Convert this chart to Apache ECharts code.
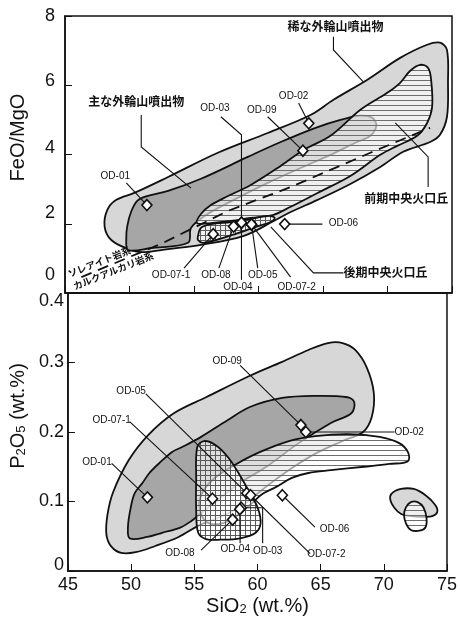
<!DOCTYPE html>
<html><head><meta charset="utf-8">
<script src="https://cdn.jsdelivr.net/npm/echarts@6/dist/echarts.min.js"></script>
<style>html,body{margin:0;padding:0;background:#fff}#c{width:460px;height:622px}</style>
</head><body><div id="c"></div>
<script>
// ---------- sample data ----------
const sampleNames = ['OD-01','OD-02','OD-03','OD-04','OD-05','OD-06','OD-07-1','OD-07-2','OD-08','OD-09'];
const sio2Top  = [51.35,63.90,58.68,58.68,59.46,62.03,56.49,59.46,58.07,63.44];
const feoMgo   = [2.54,4.90,2.03,2.03,1.98,1.99,1.70,1.98,1.92,4.11];
const sio2Bot  = [51.29,63.83,58.72,58.60,59.15,61.97,56.44,59.46,58.03,63.44];
const p2o5     = [0.106,0.200,0.091,0.089,0.112,0.109,0.104,0.109,0.074,0.210];

// ---------- axis ticks ----------
const xTicks = [45,50,55,60,65,70,75];
const yTopTicks = [0,2,4,6,8];
const yBotTicks = [0,0.1,0.2,0.3,0.4];

// ---------- fields: FeO/MgO panel ----------
const rareOuterTop = [[48.07,1.92],[48.28,2.40],[48.98,2.69],[50.37,2.89],[52.99,3.35],[56.85,4.05],[60.71,4.62],[64.03,5.14],[65.81,5.58],[68.44,6.16],[70.98,6.79],[73.07,7.17],[74.07,7.23],[74.61,7.02],[74.69,6.07],[74.61,5.09],[74.07,4.57],[73.30,4.36],[71.22,4.08],[69.44,3.64],[67.12,3.15],[64.58,2.69],[62.49,2.34],[61.18,2.08],[58.86,1.65],[55.54,1.39],[52.99,1.27],[50.91,1.18],[49.90,1.27],[48.59,1.53]];
const mainOuterTop = [[49.90,1.24],[49.75,1.59],[49.83,1.94],[50.14,2.36],[50.60,2.66],[51.29,2.79],[52.99,2.95],[55.54,3.30],[59.17,3.93],[61.72,4.36],[64.42,4.77],[66.35,5.00],[67.90,5.12],[68.82,5.06],[69.13,4.83],[68.67,4.54],[67.51,4.34],[65.58,3.99],[63.26,3.61],[60.71,3.18],[58.09,2.69],[55.93,2.25],[54.77,1.88],[54.54,1.45],[51.68,1.30]];
const earlyConeTop = [[55.23,2.02],[55.54,2.28],[56.31,2.54],[57.63,2.80],[59.40,3.12],[61.72,3.67],[63.49,4.13],[65.58,4.54],[67.90,5.29],[69.98,5.78],[70.98,6.07],[71.76,6.42],[72.53,6.59],[73.15,6.50],[73.38,6.16],[73.46,5.38],[73.07,4.91],[72.30,4.54],[70.75,4.25],[69.44,3.99],[67.12,3.38],[64.58,2.89],[62.49,2.49],[61.10,2.25],[59.40,2.17],[57.86,2.08],[56.31,2.02]];
const lateConeTop = [[55.31,1.65],[55.54,1.88],[56.31,1.99],[57.86,2.05],[59.40,2.14],[60.79,2.23],[61.25,2.17],[60.95,2.05],[59.79,1.91],[58.24,1.71],[56.70,1.53],[55.69,1.45],[55.31,1.53]];
const thCaBoundary = [[46.27,0.46],[52.45,1.42],[57.63,2.37],[62.49,3.06],[68.67,4.05],[73.30,4.77]];

// ---------- fields: P2O5 panel ----------
const rareOuterBot = [[48.05,0.052],[48.13,0.081],[48.59,0.114],[49.83,0.160],[51.37,0.196],[53.38,0.227],[55.93,0.250],[59.40,0.281],[61.95,0.301],[64.03,0.318],[65.58,0.328],[66.74,0.328],[67.74,0.318],[68.67,0.292],[69.21,0.256],[69.05,0.222],[68.36,0.200],[66.74,0.187],[64.81,0.171],[62.88,0.150],[60.95,0.125],[59.79,0.108],[58.63,0.092],[56.85,0.076],[55.31,0.065],[53.76,0.049],[51.91,0.036],[50.37,0.027],[49.21,0.026],[48.44,0.035]];
const mainOuterBot = [[49.90,0.047],[49.75,0.063],[49.98,0.092],[50.29,0.112],[50.91,0.127],[51.45,0.141],[52.22,0.155],[53.22,0.171],[54.00,0.178],[55.54,0.193],[57.63,0.217],[59.40,0.236],[61.95,0.249],[64.58,0.252],[67.12,0.250],[67.66,0.243],[67.43,0.227],[65.81,0.213],[63.26,0.184],[60.71,0.150],[58.63,0.127],[56.85,0.102],[55.54,0.083],[54.77,0.072],[53.84,0.062],[52.45,0.055],[51.29,0.049]];
const earlyConeBot = [[55.39,0.095],[55.77,0.117],[56.70,0.135],[58.24,0.153],[60.17,0.171],[62.49,0.187],[64.58,0.194],[67.12,0.197],[69.67,0.193],[71.22,0.184],[71.91,0.171],[71.91,0.158],[70.44,0.154],[68.44,0.150],[65.81,0.145],[64.03,0.141],[62.72,0.134],[61.49,0.121],[60.41,0.111],[59.40,0.095],[58.24,0.078],[57.08,0.068],[55.93,0.071]];
const lateConeBot = [[55.23,0.178],[55.77,0.187],[56.70,0.181],[57.70,0.163],[58.63,0.137],[59.40,0.112],[60.02,0.091],[60.25,0.069],[59.86,0.055],[58.63,0.047],[57.08,0.045],[55.93,0.046],[55.31,0.055],[55.15,0.088],[55.15,0.131]];
const rhyoliteOuterBot = [[70.60,0.111],[71.37,0.118],[72.37,0.118],[73.30,0.109],[74.07,0.095],[74.23,0.085],[73.84,0.079],[73.15,0.078],[72.14,0.079],[71.37,0.082],[70.83,0.091],[70.52,0.102]];
const rhyoliteInnerBot = [[71.76,0.092],[72.14,0.099],[72.68,0.099],[73.15,0.091],[73.38,0.076],[73.30,0.063],[72.84,0.058],[72.14,0.059],[71.76,0.068],[71.60,0.081]];

// ---------- sample label anchors & leaders ----------
const labelTop = [[48.90,3.38],[62.72,5.69],[56.62,5.35],[58.40,0.17],[60.33,0.52],[66.58,2.02],[53.22,0.52],[62.95,0.17],[56.70,0.52],[60.25,5.29]];
const leaderTop = [
  [[49.75,3.18],[51.35,2.54]],
  [[63.11,5.49],[63.90,4.90]],
  [[57.08,5.09],[58.68,4.57],[58.68,2.03]],
  [[58.68,2.03],[58.68,0.38]],
  [[59.94,0.72],[59.46,1.98]],
  [[62.03,1.99],[64.96,1.99]],
  [[54.23,0.72],[56.49,1.70]],
  [[62.49,0.46],[59.46,1.98]],
  [[56.93,0.72],[58.07,1.92]],
  [[60.71,5.09],[63.44,4.11]]
];
const labelBot = [[47.30,0.156],[72.01,0.200],[60.81,0.029],[58.24,0.031],[50.00,0.258],[66.10,0.060],[48.46,0.217],[65.45,0.024],[53.86,0.026],[57.60,0.302]];
const leaderBot = [
  [[48.46,0.155],[51.29,0.106]],
  [[70.85,0.200],[63.83,0.200]],
  [[58.72,0.091],[60.41,0.091],[60.41,0.040]],
  [[58.60,0.089],[58.63,0.040]],
  [[51.16,0.255],[59.15,0.112]],
  [[64.55,0.063],[61.97,0.109]],
  [[49.88,0.215],[56.44,0.104]],
  [[64.17,0.025],[59.46,0.109]],
  [[55.54,0.030],[58.03,0.074]],
  [[58.63,0.296],[63.44,0.210]]
];

// ---------- field annotations (top panel) ----------
const fieldNames = ['稀な外輪山噴出物','主な外輪山噴出物','前期中央火口丘','後期中央火口丘'];
const fieldNamePos = [[65.96,7.69],[50.52,5.52],[71.45,2.72],[66.58,0.58]];
const fieldLeaders = [
  [[65.81,7.40],[65.81,7.02],[68.13,6.10]],
  [[50.91,5.14],[50.91,4.22],[54.77,3.03]],
  [[73.15,3.06],[73.15,3.93],[70.60,4.91]],
  [[66.58,0.58],[64.26,0.58],[60.95,1.91]]
];
const seriesNames = ['ソレアイト岩系','カルクアルカリ岩系'];
const seriesNamePos = [[47.66,0.90],[48.75,0.64]];

// ---------- patterns ----------
function makePattern(w, h, horiz, vert, color) {
  const c = document.createElement('canvas'); c.width = w; c.height = h;
  const g = c.getContext('2d'); g.strokeStyle = color; g.lineWidth = 1;
  g.beginPath();
  if (horiz) { g.moveTo(0, 0.5); g.lineTo(w, 0.5); }
  if (vert) { g.moveTo(0.5, 0); g.lineTo(0.5, h); }
  g.stroke();
  return { image: c, repeat: 'repeat' };
}
const hatchH = makePattern(8, 5, true, false, '#6e6e6e');
const hatchX = makePattern(5, 5, true, true, '#5a5a5a');

const FONT = '"Liberation Sans", Arial, Helvetica, sans-serif';
const JFONT = '"Noto Sans CJK JP", sans-serif';
const LIGHT = '#d7d7d7', DARK = '#a6a6a6', EDGE = '#111';

function fieldSeries(g, pts, kind, z) {
  return {
    type: 'custom', xAxisIndex: g, yAxisIndex: g, z: z, silent: true, clip: true,
    data: [[pts[0][0], pts[0][1]]],
    renderItem: function (params, api) {
      const p = pts.map(d => api.coord(d));
      const sm = 0.35;
      if (kind === 'light' || kind === 'dark') {
        return { type: 'polygon', shape: { points: p, smooth: sm },
          style: { fill: kind === 'light' ? LIGHT : DARK, stroke: EDGE, lineWidth: 1.8 } };
      }
      const pat = kind === 'hatch' ? hatchH : hatchX;
      return { type: 'group', children: [
        { type: 'polygon', shape: { points: p, smooth: sm }, style: { fill: 'rgba(255,255,255,0.62)' } },
        { type: 'polygon', shape: { points: p, smooth: sm }, style: { fill: pat, stroke: EDGE, lineWidth: 1.8 } }
      ]};
    }
  };
}

function leaderSeries(g, lines, z) {
  return {
    type: 'custom', xAxisIndex: g, yAxisIndex: g, z: z, silent: true, clip: false,
    data: lines.map(l => [l[0][0], l[0][1]]),
    renderItem: function (params, api) {
      const p = lines[params.dataIndex].map(d => api.coord(d));
      return { type: 'polyline', shape: { points: p }, style: { stroke: '#111', lineWidth: 1.1, fill: null } };
    }
  };
}

function textSeries(g, texts, pos, size, family, rot, z, align, weight) {
  return {
    type: 'custom', xAxisIndex: g, yAxisIndex: g, z: z, silent: true, clip: false,
    data: pos.map(p => [p[0], p[1]]),
    renderItem: function (params, api) {
      const c = api.coord(pos[params.dataIndex]);
      const a = Array.isArray(align) ? align[params.dataIndex] : (align || 'center');
      return { type: 'text', x: c[0], y: c[1], rotation: rot || 0,
        style: { text: texts[params.dataIndex], fontSize: size, fontFamily: family, fontWeight: weight || 'normal',
          fill: '#111', align: a, verticalAlign: 'middle' } };
    }
  };
}

function sampleSeries(g, xs, ys) {
  return {
    type: 'scatter', xAxisIndex: g, yAxisIndex: g, z: 20, silent: true,
    symbol: 'diamond', symbolSize: [10, 11],
    itemStyle: { color: '#fff', borderColor: '#111', borderWidth: 1.6, opacity: 1 },
    data: xs.map((x, i) => [x, ys[i]])
  };
}

const topShift = { 0: 36, 2: 22, 4: 12, 6: 8, 8: 0 };

const option = {
  animation: false,
  backgroundColor: '#fff',
  grid: [
    { left: 63, width: 389, top: 16, height: 277, show: true, borderColor: '#111', borderWidth: 1.5, backgroundColor: 'transparent' },
    { left: 63, width: 389, top: 293, height: 278, show: true, borderColor: '#111', borderWidth: 1.5, backgroundColor: 'transparent' }
  ],
  xAxis: [
    { type: 'value', gridIndex: 0, min: xTicks[0], max: xTicks[xTicks.length - 1], interval: 5,
      axisLine: { lineStyle: { color: '#111', width: 1.5 } },
      axisTick: { inside: true, length: 7, lineStyle: { color: '#111', width: 1 } },
      axisLabel: { show: false }, splitLine: { show: false } },
    { type: 'value', gridIndex: 1, min: xTicks[0], max: xTicks[xTicks.length - 1], interval: 5,
      axisLine: { lineStyle: { color: '#111', width: 1.5 } },
      axisTick: { inside: true, length: 7, lineStyle: { color: '#111', width: 1 } },
      axisLabel: { color: '#111', fontSize: 18, fontFamily: FONT, margin: 5, showMinLabel: true, showMaxLabel: true },
      splitLine: { show: false },
      name: 'SiO{s|2} (wt.%)', nameLocation: 'middle', nameGap: 25,
      nameTextStyle: { color: '#111', fontSize: 20, fontFamily: FONT,
        rich: { s: { fontSize: 13, fontFamily: FONT, color: '#111', verticalAlign: 'bottom', padding: [6, 0, 0, 0] } } } }
  ],
  yAxis: [
    { type: 'value', gridIndex: 0, min: yTopTicks[0], max: yTopTicks[yTopTicks.length - 1], interval: 2,
      axisLine: { lineStyle: { color: '#111', width: 1.5 } },
      axisTick: { inside: true, length: 7, lineStyle: { color: '#111', width: 1 } },
      axisLabel: { color: '#111', fontSize: 18, fontFamily: FONT, margin: 10,
        formatter: function (v) { return '{t' + v + '|' + v + '}'; },
        rich: { t0: { fontSize: 18, fontFamily: FONT, color: '#111', padding: [0, 0, topShift[0], 0] },
                t2: { fontSize: 18, fontFamily: FONT, color: '#111', padding: [0, 0, topShift[2], 0] },
                t4: { fontSize: 18, fontFamily: FONT, color: '#111', padding: [0, 0, topShift[4], 0] },
                t6: { fontSize: 18, fontFamily: FONT, color: '#111', padding: [0, 0, topShift[6], 0] },
                t8: { fontSize: 18, fontFamily: FONT, color: '#111' } } },
      splitLine: { show: false },
      name: 'FeO/MgO', nameLocation: 'middle', nameGap: 37,
      nameTextStyle: { color: '#111', fontSize: 20, fontFamily: FONT, padding: [0, 0, 0, 34] } },
    { type: 'value', gridIndex: 1, min: yBotTicks[0], max: yBotTicks[yBotTicks.length - 1], interval: 0.1,
      axisLine: { lineStyle: { color: '#111', width: 1.5 } },
      axisTick: { inside: true, length: 7, lineStyle: { color: '#111', width: 1 } },
      axisLabel: { color: '#111', fontSize: 18, fontFamily: FONT, margin: 4,
        formatter: function (v, i) { return '{b' + i + '|' + v + '}'; },
        rich: { b0: { fontSize: 18, fontFamily: FONT, color: '#111', padding: [0, 0, 12, 0] },
                b1: { fontSize: 18, fontFamily: FONT, color: '#111' },
                b2: { fontSize: 18, fontFamily: FONT, color: '#111' },
                b3: { fontSize: 18, fontFamily: FONT, color: '#111' },
                b4: { fontSize: 18, fontFamily: FONT, color: '#111', padding: [16, 0, 0, 0] } } },
      splitLine: { show: false },
      name: 'P{s|2}O{s|5} (wt.%)', nameLocation: 'middle', nameGap: 38,
      nameTextStyle: { color: '#111', fontSize: 20, fontFamily: FONT, padding: [0, 0, 0, 32],
        rich: { s: { fontSize: 13, fontFamily: FONT, color: '#111', verticalAlign: 'bottom', padding: [6, 0, 0, 0] } } } }
  ],
  series: [
    fieldSeries(0, rareOuterTop, 'light', 1),
    fieldSeries(0, mainOuterTop, 'dark', 2),
    fieldSeries(0, earlyConeTop, 'hatch', 3),
    fieldSeries(0, lateConeTop, 'cross', 4),
    { type: 'line', xAxisIndex: 0, yAxisIndex: 0, z: 6, silent: true, symbol: 'none', smooth: false,
      lineStyle: { color: '#111', width: 1.8, type: [11, 7] }, data: thCaBoundary },
    leaderSeries(0, leaderTop, 8),
    leaderSeries(0, fieldLeaders, 8),
    sampleSeries(0, sio2Top, feoMgo),
    textSeries(0, sampleNames, labelTop, 10, FONT, 0, 22),
    textSeries(0, fieldNames, fieldNamePos, 12, JFONT, 0, 22, ['center', 'center', 'center', 'left'], 'bold'),
    textSeries(0, seriesNames, seriesNamePos, 9.5, JFONT, 0.38, 22, 'center', 'bold'),

    fieldSeries(1, rareOuterBot, 'light', 1),
    fieldSeries(1, mainOuterBot, 'dark', 2),
    fieldSeries(1, earlyConeBot, 'hatch', 3),
    fieldSeries(1, lateConeBot, 'cross', 4),
    fieldSeries(1, rhyoliteOuterBot, 'light', 5),
    fieldSeries(1, rhyoliteInnerBot, 'hatch', 6),
    leaderSeries(1, leaderBot, 8),
    sampleSeries(1, sio2Bot, p2o5),
    textSeries(1, sampleNames, labelBot, 10, FONT, 0, 22)
  ]
};
const chart = echarts.init(document.getElementById('c'), null, { renderer: 'canvas' });
chart.setOption(option);
</script></body></html>
